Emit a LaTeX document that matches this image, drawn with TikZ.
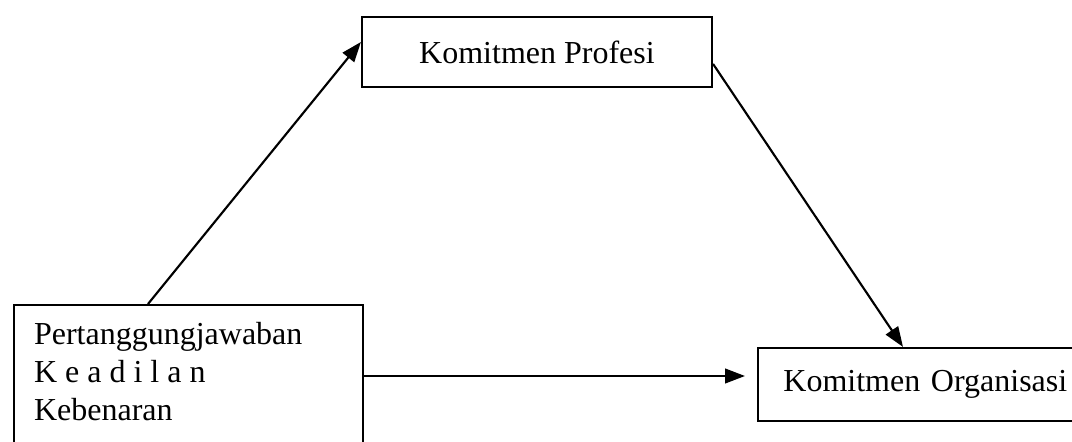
\documentclass[tikz,border=0pt]{standalone}
\usepackage{fontspec}
\setmainfont{Liberation Serif}
\usetikzlibrary{arrows.meta,calc}
\begin{document}
\begin{tikzpicture}[x=0.75pt,y=-0.75pt,
  box/.style={draw,line width=1.6pt,rectangle},
  conn/.style={line width=1.6pt,-{Triangle[length=15pt,width=11pt]}},
  font=\fontsize{24}{28.5}\selectfont]
\clip (0,0) rectangle (1072,442);
\node[box, anchor=north west, inner xsep=15pt, inner ysep=12.75pt] (pt) at (13,304)
  {\begin{minipage}[t][130pt][t]{231.75pt}\raggedright
   Pertanggungjawaban\\K e a d i l a n\\Kebenaran\end{minipage}};
\node[box, minimum width=262.5pt, minimum height=52.5pt, inner sep=0pt] (kp) at (537,52)
  {Komitmen Profesi};
\node[box, anchor=west, minimum width=255pt, minimum height=54.75pt,
      inner xsep=18.75pt, text width=217pt, align=left] (ko) at (757,384.5)
  {Komitmen Organisasi};
\draw[conn] ($(pt.north west)+(135,0)$) -- ($(kp.west)+(0,-10)$);
\draw[conn] ($(kp.north east)+(0,48)$) -- ($(ko.north west)+(146,0)$);
\draw[conn] ($(pt.north east)+(0,72)$) -- ($(ko.west)+(-12,-8.5)$);
\end{tikzpicture}
\end{document}
